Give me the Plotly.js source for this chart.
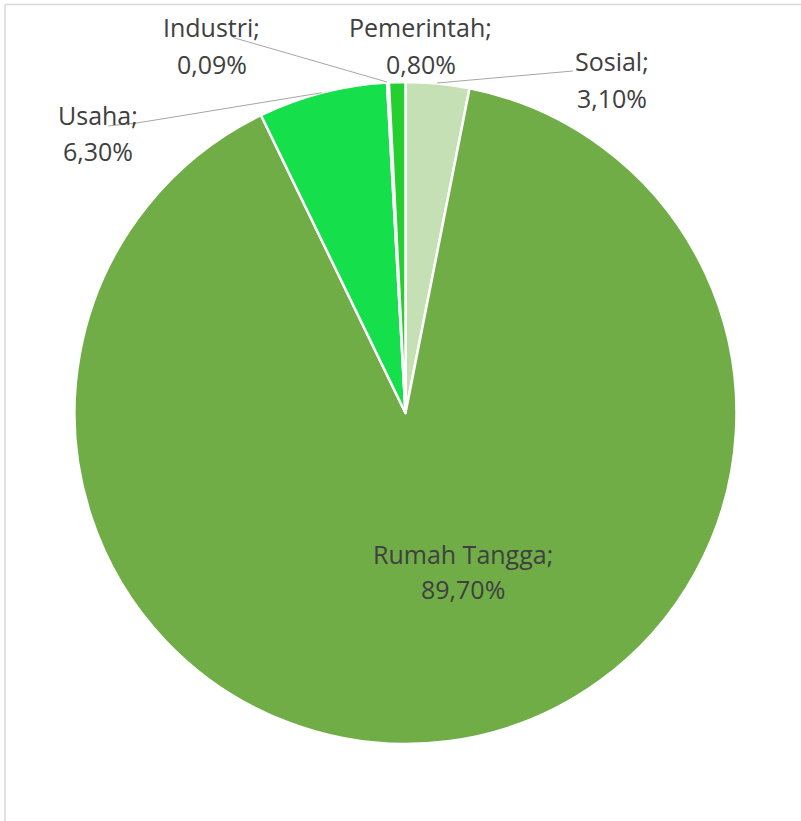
<!DOCTYPE html>
<html>
<head>
<meta charset="utf-8">
<script src="https://cdn.plot.ly/plotly-3.0.1.min.js"></script>
<style>html,body{margin:0;padding:0;background:#fff}#chart{width:801px;height:821px}</style>
</head>
<body>
<div id="chart"></div>
<script>
// Data
var categories = ['Sosial', 'Rumah Tangga', 'Usaha', 'Industri', 'Pemerintah'];
var values = [3.10, 89.70, 6.30, 0.09, 0.80];
var colors = ['#c5e0b4', '#70ad47', '#15e04b', '#1fbf3a', '#26cf30'];

// Layout helpers (pixel positions of labels, not data)
var W = 801, H = 821;
function px(x) { return x / W; }
function py(y) { return 1 - y / H; }
var labelPos = [
  {x: 612, y1: 61, y2: 98},    // Sosial
  {x: 463, y1: 554, y2: 589},  // Rumah Tangga
  {x: 98, y1: 115, y2: 151},   // Usaha
  {x: 212, y1: 27, y2: 64},    // Industri
  {x: 421, y1: 27, y2: 64}     // Pemerintah
];
var leaders = [
  [[437, 83], [573, 71]],                 // Sosial
  null,
  [[108, 126], [137, 123], [322, 92.7]],  // Usaha
  [[233, 37.5], [387, 82]],               // Industri
  null
];

function fmt(v) { return v.toFixed(2).replace('.', ',') + '%'; }

var cx = 405.5, cy = 413, r = 331;
var trace = {
  type: 'pie',
  labels: categories,
  values: values,
  sort: false,
  direction: 'clockwise',
  rotation: 0,
  textinfo: 'none',
  hoverinfo: 'label+percent',
  marker: {colors: colors, line: {color: '#ffffff', width: 2.5}},
  domain: {x: [px(cx - r), px(cx + r)], y: [py(cy + r), py(cy - r)]},
  showlegend: false
};

var font = {family: '"Open Sans", sans-serif', size: 25, color: '#404040'};
var annotations = [];
categories.forEach(function (c, i) {
  var p = labelPos[i];
  annotations.push({xref: 'paper', yref: 'paper', x: px(p.x), y: py(p.y1), text: c + ';',
    showarrow: false, xanchor: 'center', yanchor: 'middle', font: font});
  annotations.push({xref: 'paper', yref: 'paper', x: px(p.x), y: py(p.y2), text: fmt(values[i]),
    showarrow: false, xanchor: 'center', yanchor: 'middle', font: font});
});

var shapes = [
  {type: 'line', xref: 'paper', yref: 'paper', x0: px(5), x1: px(801), y0: py(4.5), y1: py(4.5), line: {color: '#d9d9d9', width: 1.5}},
  {type: 'line', xref: 'paper', yref: 'paper', x0: px(5), x1: px(5), y0: py(4.5), y1: py(821), line: {color: '#d9d9d9', width: 1.5}}
];
leaders.forEach(function (pts) {
  if (!pts) return;
  var d = 'M ' + pts.map(function (q) { return px(q[0]) + ',' + py(q[1]); }).join(' L ');
  shapes.push({type: 'path', xref: 'paper', yref: 'paper', path: d, line: {color: '#a6a6a6', width: 1}});
});

var layout = {
  width: W, height: H,
  margin: {l: 0, r: 0, t: 0, b: 0},
  paper_bgcolor: '#ffffff',
  showlegend: false,
  annotations: annotations,
  shapes: shapes
};

Plotly.newPlot('chart', [trace], layout, {displayModeBar: false, staticPlot: true});
</script>
</body>
</html>
